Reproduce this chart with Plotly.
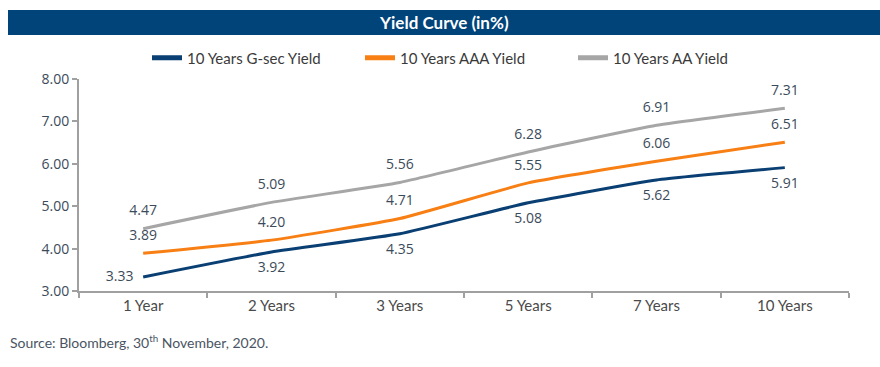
import plotly.graph_objects as go

categories = ["1 Year", "2 Years", "3 Years", "5 Years", "7 Years", "10 Years"]
gsec = [3.33, 3.92, 4.35, 5.08, 5.62, 5.91]
aaa = [3.89, 4.20, 4.71, 5.55, 6.06, 6.51]
aa = [4.47, 5.09, 5.56, 6.28, 6.91, 7.31]
series_names = ["10 Years G-sec Yield", "10 Years AAA Yield", "10 Years AA Yield"]
y_ticks = [3, 4, 5, 6, 7, 8]

colors = ["#0a3f73", "#f77f14", "#a6a6a6"]
label_color = "#3c4b5a"
num_font = dict(family="Open Sans", size=14, color=label_color)

fig = go.Figure()
positions = [
    ["middle left"] + ["bottom center"] * 5,
    ["top center"] * 6,
    ["top center"] * 6,
]
for name, vals, col, pos in zip(series_names, [gsec, aaa, aa], colors, positions):
    fig.add_trace(go.Scatter(
        x=categories, y=vals, name=name, mode="lines+markers+text",
        text=[f"{v:.2f}" for v in vals], textposition=pos,
        textfont=num_font,
        marker=dict(size=14, color="rgba(0,0,0,0)"),
        line=dict(color=col, width=3, shape="spline", smoothing=0.4),
        hoverinfo="skip",
    ))

fig.update_layout(
    width=880, height=367,
    margin=dict(l=79, r=31, t=79, b=76),
    paper_bgcolor="white", plot_bgcolor="white",
    showlegend=True,
    legend=dict(orientation="h", x=(147 - 79) / 770, y=(291 - 58) / 212,
                xanchor="left", yanchor="middle",
                font=dict(family="Lato", size=15, color="#3a3a3a"),
                entrywidth=168, entrywidthmode="pixels", traceorder="normal",
                itemsizing="constant"),
    xaxis=dict(type="category", range=[-0.5, 5.5], showline=True, linecolor="#a0a0a0",
               linewidth=2, ticks="outside", tickson="boundaries", ticklen=5,
               tickcolor="#a0a0a0", tickwidth=1.5, showgrid=False, zeroline=False,
               tickfont=dict(family="Lato", size=15, color="#4a4a4a"), fixedrange=True),
    yaxis=dict(range=[3, 8], tickvals=y_ticks, tickformat=".2f", showline=True,
               linecolor="#a0a0a0", linewidth=2, ticks="outside", ticklen=5,
               tickcolor="#a0a0a0", tickwidth=1.5, showgrid=False, zeroline=False,
               tickfont=num_font, fixedrange=True),
    shapes=[dict(type="rect", xref="paper", yref="paper",
                 x0=(8 - 79) / 770, x1=(880 - 79) / 770,
                 y0=(291 - 35) / 212, y1=(291 - 10) / 212,
                 fillcolor="#00447a", line=dict(width=0), layer="below")],
    annotations=[
        dict(text="<b>Yield Curve (in%)</b>", xref="paper", yref="paper",
             x=(444 - 79) / 770, y=(291 - 22.5) / 212, showarrow=False,
             xanchor="center", yanchor="middle",
             font=dict(family="Lato", size=17, color="white")),
        dict(text="Source: Bloomberg, 30<sup>th</sup> November, 2020.", xref="paper", yref="paper",
             x=(8 - 79) / 770, y=(291 - 341) / 212, showarrow=False,
             xanchor="left", yanchor="middle",
             font=dict(family="Lato", size=14, color="#4a5563")),
    ],
)

fig.write_html("out.html", config={"displayModeBar": False},
               post_script="document.body.style.margin='0px';")
